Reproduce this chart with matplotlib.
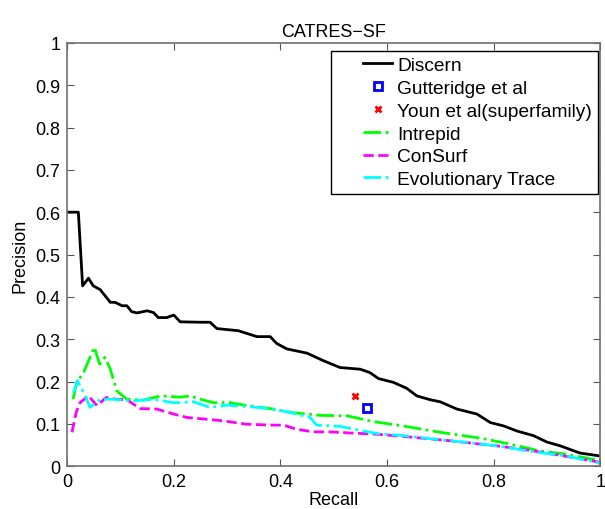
import numpy as np
import matplotlib
matplotlib.use("Agg")
import matplotlib.pyplot as plt
from matplotlib.legend_handler import HandlerLine2D

plt.rcParams['font.family'] = ['Liberation Sans', 'DejaVu Sans']

# Discern
discern_r = [0.0, 0.021, 0.029, 0.04, 0.049, 0.062, 0.081, 0.09, 0.103, 0.112, 0.121, 0.131,
             0.15, 0.162, 0.171, 0.187, 0.2, 0.212, 0.25, 0.268, 0.281, 0.321, 0.356, 0.381,
             0.393, 0.412, 0.45, 0.481, 0.512, 0.55, 0.568, 0.584, 0.612, 0.637, 0.656, 0.681,
             0.7, 0.731, 0.769, 0.794, 0.819, 0.844, 0.875, 0.9, 0.925, 0.962, 1.0]
discern_p = [0.6, 0.6, 0.426, 0.444, 0.426, 0.417, 0.387, 0.387, 0.379, 0.379, 0.365, 0.362,
             0.367, 0.363, 0.351, 0.351, 0.357, 0.341, 0.34, 0.34, 0.325, 0.32, 0.306, 0.306,
             0.29, 0.277, 0.267, 0.249, 0.233, 0.229, 0.221, 0.207, 0.198, 0.184, 0.166, 0.157,
             0.152, 0.135, 0.123, 0.103, 0.095, 0.083, 0.072, 0.057, 0.048, 0.031, 0.024]

# Intrepid
intrepid_r = [0.011, 0.018, 0.031, 0.051, 0.061, 0.071, 0.081, 0.093, 0.112, 0.143, 0.175,
              0.212, 0.231, 0.25, 0.275, 0.306, 0.337, 0.381, 0.418, 0.475, 0.525, 0.575,
              0.625, 0.7, 0.781, 0.831, 0.887, 0.937, 1.0]
intrepid_p = [0.158, 0.198, 0.222, 0.281, 0.241, 0.257, 0.229, 0.178, 0.158, 0.156, 0.166,
              0.163, 0.166, 0.158, 0.15, 0.15, 0.143, 0.136, 0.127, 0.12, 0.119, 0.105,
              0.096, 0.08, 0.065, 0.052, 0.036, 0.028, 0.013]

# ConSurf
consurf_r = [0.009, 0.017, 0.024, 0.04, 0.056, 0.073, 0.093, 0.112, 0.137, 0.168, 0.2, 0.225,
             0.243, 0.293, 0.337, 0.387, 0.406, 0.431, 0.462, 0.493, 0.537, 0.575, 0.625,
             0.718, 0.806, 0.875, 0.937, 1.0]
consurf_p = [0.08, 0.127, 0.15, 0.166, 0.143, 0.162, 0.158, 0.157, 0.136, 0.135, 0.123, 0.115,
             0.113, 0.107, 0.099, 0.097, 0.097, 0.087, 0.081, 0.081, 0.078, 0.076, 0.071,
             0.06, 0.048, 0.036, 0.023, 0.009]

# Evolutionary Trace
et_r = [0.012, 0.019, 0.031, 0.043, 0.062, 0.087, 0.124, 0.162, 0.2, 0.212, 0.237, 0.268,
        0.3, 0.337, 0.381, 0.418, 0.456, 0.468, 0.512, 0.556, 0.587, 0.625, 0.687, 0.75,
        0.806, 0.875, 0.937, 1.0]
et_p = [0.174, 0.202, 0.174, 0.139, 0.158, 0.158, 0.154, 0.158, 0.15, 0.15, 0.152, 0.139,
        0.144, 0.141, 0.136, 0.127, 0.115, 0.097, 0.094, 0.083, 0.076, 0.073, 0.064, 0.056,
        0.048, 0.034, 0.024, 0.007]

gutteridge = (0.562, 0.138)
youn = (0.54, 0.166)


class ShiftedHandler(HandlerLine2D):
    # matlab-style legend: empty gap left of the sample line
    def __init__(self, gap, **kw):
        super().__init__(**kw)
        self.gap = gap

    def create_artists(self, legend, orig_handle, xdescent, ydescent, width, height,
                       fontsize, trans):
        return super().create_artists(legend, orig_handle, xdescent - self.gap, ydescent,
                                      width - self.gap, height, fontsize, trans)


fig = plt.figure(figsize=(6.05, 5.1), dpi=100)
ax = fig.add_axes([0.111, 0.084, 0.881, 0.83])

h1, = ax.plot(discern_r, discern_p, color='black', lw=2, label='Discern')
h2, = ax.plot([gutteridge[0]], [gutteridge[1]], 's', color='blue', mfc='none', mew=2, ms=6,
              linestyle='none', label='Gutteridge et al')
h3, = ax.plot([youn[0]], [youn[1]], 'x', color='red', mew=2, ms=5,
              linestyle='none', label='Youn et al(superfamily)')
h4, = ax.plot(intrepid_r, intrepid_p, color='#00ff00', lw=2, ls='-.', label='Intrepid')
h5, = ax.plot(consurf_r, consurf_p, color='#ff00ff', lw=2, ls='--', label='ConSurf')
h6, = ax.plot(et_r, et_p, color='#00ffff', lw=2, ls='-.', label='Evolutionary Trace')

ax.set_xlim(0, 1)
ax.set_ylim(0, 1)
ax.set_xticks(np.arange(0, 1.01, 0.2))
ax.set_xticklabels(['0', '0.2', '0.4', '0.6', '0.8', '1'])
ax.set_yticks(np.arange(0, 1.01, 0.1))
ax.set_yticklabels(['0', '0.1', '0.2', '0.3', '0.4', '0.5', '0.6', '0.7', '0.8', '0.9', '1'])
ax.tick_params(direction='in', top=True, right=True, labelsize=13, length=5, color='#555555',
               pad=5)
for s in ax.spines.values():
    s.set_color('#707070')
    s.set_linewidth(1.2)

ax.set_xlabel('Recall', fontsize=13, labelpad=1)
ax.set_ylabel('Precision', fontsize=13, labelpad=5)
ax.set_title('CATRES\u2212SF', fontsize=13, pad=5)

hmap = {h: ShiftedHandler(gap=19) for h in (h1, h2, h3, h4, h5, h6)}
leg = ax.legend(handles=[h1, h2, h3, h4, h5, h6], handler_map=hmap,
                loc='upper right', bbox_to_anchor=(598 / 605, 1 - 52 / 510),
                bbox_transform=fig.transFigure, borderaxespad=0,
                fontsize=13.8, frameon=True, fancybox=False,
                edgecolor='black', framealpha=1, handlelength=2.9, handletextpad=0.27,
                borderpad=0.3, labelspacing=0.28)
leg.get_frame().set_linewidth(1)

fig.savefig('out.png', dpi=100)
